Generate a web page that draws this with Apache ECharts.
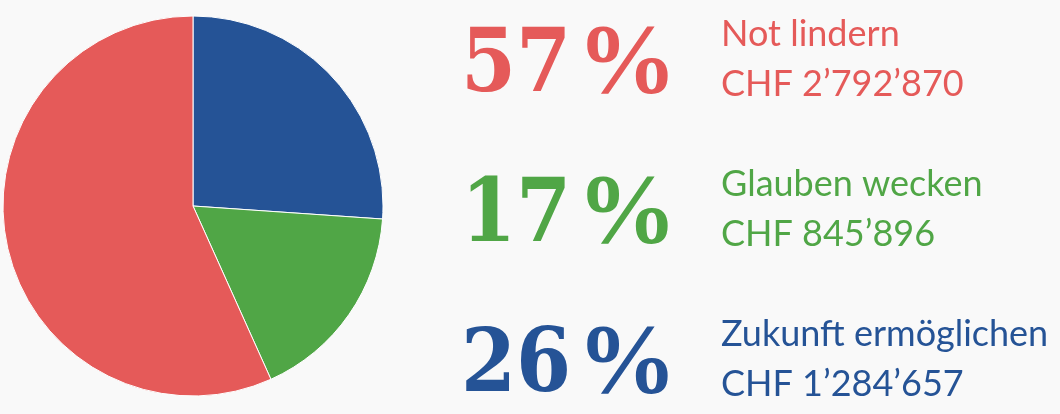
<!DOCTYPE html>
<html><head><meta charset="utf-8">
<script src="https://cdn.jsdelivr.net/npm/echarts@6/dist/echarts.min.js"></script>
<style>html,body{margin:0;padding:0;background:#f9f9f9}#c{width:1060px;height:414px}</style>
</head><body><div id="c"></div>
<script>
var categories = ['Zukunft ermöglichen', 'Glauben wecken', 'Not lindern'];
var values = [1284657, 845896, 2792870];
var amountLabels = ['CHF 1’284’657', 'CHF 845’896', 'CHF 2’792’870'];
var colors = ['#255396', '#50a646', '#e55a59'];
var legendOrder = [2, 1, 0];

var total = values.reduce(function(a,b){return a+b;},0);
var graphics = [];
legendOrder.forEach(function(idx, row){
  var pct = Math.round(values[idx] / total * 100);
  var y0 = row * 150;
  graphics.push({
    type: 'text', x: 461, y: y0 + 24,
    style: {
      text: String(pct),
      fontFamily: '"DejaVu Serif Condensed", "Liberation Serif", serif', fontWeight: 'bold', fontSize: 88,
      fill: colors[idx]
    }
  });
  graphics.push({
    type: 'text', x: 577, y: y0 + 16,
    style: {
      text: '%',
      fontFamily: '"Liberation Serif", serif', fontWeight: 'bold', fontSize: 100,
      fill: colors[idx]
    }
  });
  graphics.push({
    type: 'text', x: 721, y: y0 + 9,
    style: {
      text: categories[idx] + '\n' + amountLabels[idx],
      fontFamily: 'Lato', fontSize: 36, lineHeight: 50, fill: colors[idx]
    }
  });
});

var chart = echarts.init(document.getElementById('c'));
chart.setOption({
  backgroundColor: '#f9f9f9',
  animation: false,
  series: [{
    type: 'pie', center: [193, 206], radius: 190, startAngle: 90, clockwise: true,
    label: {show: false}, labelLine: {show: false},
    itemStyle: {borderColor: '#ffffff', borderWidth: 1},
    data: categories.map(function(c, i){ return {name: c, value: values[i], itemStyle: {color: colors[i]}}; })
  }],
  graphic: graphics
});
</script></body></html>
